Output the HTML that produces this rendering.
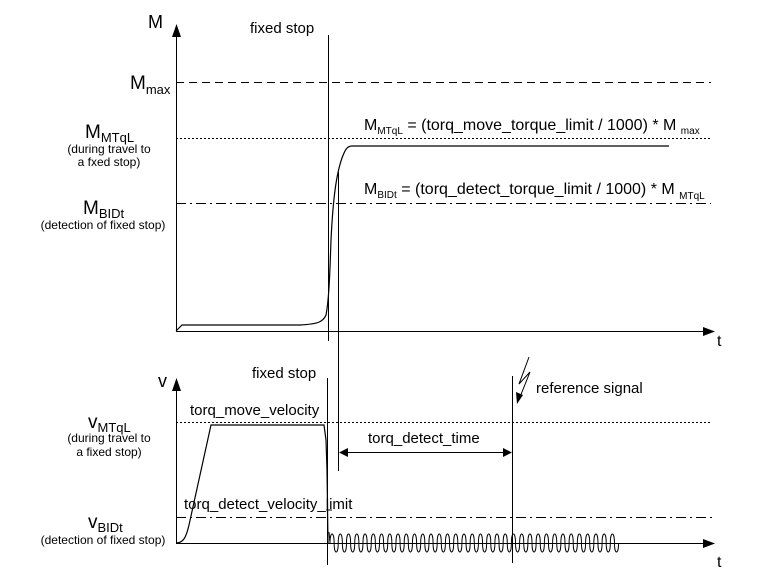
<!DOCTYPE html>
<html><head><meta charset="utf-8"><style>
html,body{margin:0;padding:0;background:#fff;}
svg{display:block;font-family:"Liberation Sans",Arial,sans-serif;}
</style></head><body>
<svg width="760" height="584" viewBox="0 0 760 584" xmlns="http://www.w3.org/2000/svg">
<g stroke="#000" fill="none" stroke-width="1">
<line x1="176.5" y1="36" x2="176.5" y2="331.5"/>
<line x1="176" y1="331.5" x2="706" y2="331.5"/>
<line x1="176" y1="82.5" x2="711" y2="82.5" stroke-dasharray="8,5"/>
<line x1="176" y1="138.5" x2="711" y2="138.5" stroke-dasharray="2,2"/>
<line x1="176" y1="203.5" x2="711" y2="203.5" stroke-dasharray="10,4,2,4"/>
<line x1="328.5" y1="35" x2="328.5" y2="341"/>
<line x1="338.5" y1="172" x2="338.5" y2="471"/>
<path d="M176,331 L182,325 L300,325 C318,324 323,322 326,315 C329,300 330,270 331,240 C333,200 336,175 342,158 C345,150 347,146 352,146 L669,146" stroke-width="1.2"/>
<line x1="176.5" y1="386" x2="176.5" y2="543.5"/>
<line x1="176" y1="543.5" x2="706" y2="543.5"/>
<line x1="176" y1="422.5" x2="712" y2="422.5" stroke-dasharray="2,2"/>
<line x1="176" y1="517.5" x2="712" y2="517.5" stroke-dasharray="10,4,2,4"/>
<line x1="327.5" y1="378" x2="327.5" y2="565"/>
<line x1="512.5" y1="376" x2="512.5" y2="563"/>
<path d="M176,543 C183,543 186,538 189,525 L211,425 L324,425 L326,440 L327,470 L328,543" stroke-width="1.2"/>
<line x1="326" y1="510" x2="332" y2="510"/>
<path transform="translate(330,0) scale(0.97,1) translate(-330,0)" d="M329,532 L330,543 c0,-12 4.25,-12 4.25,0 c0,12 4.25,12 4.25,0 c0,-12 4.25,-12 4.25,0 c0,12 4.25,12 4.25,0 c0,-12 4.25,-12 4.25,0 c0,12 4.25,12 4.25,0 c0,-12 4.25,-12 4.25,0 c0,12 4.25,12 4.25,0 c0,-12 4.25,-12 4.25,0 c0,12 4.25,12 4.25,0 c0,-12 4.25,-12 4.25,0 c0,12 4.25,12 4.25,0 c0,-12 4.25,-12 4.25,0 c0,12 4.25,12 4.25,0 c0,-12 4.25,-12 4.25,0 c0,12 4.25,12 4.25,0 c0,-12 4.25,-12 4.25,0 c0,12 4.25,12 4.25,0 c0,-12 4.25,-12 4.25,0 c0,12 4.25,12 4.25,0 c0,-12 4.25,-12 4.25,0 c0,12 4.25,12 4.25,0 c0,-12 4.25,-12 4.25,0 c0,12 4.25,12 4.25,0 c0,-12 4.25,-12 4.25,0 c0,12 4.25,12 4.25,0 c0,-12 4.25,-12 4.25,0 c0,12 4.25,12 4.25,0 c0,-12 4.25,-12 4.25,0 c0,12 4.25,12 4.25,0 c0,-12 4.25,-12 4.25,0 c0,12 4.25,12 4.25,0 c0,-12 4.25,-12 4.25,0 c0,12 4.25,12 4.25,0 c0,-12 4.25,-12 4.25,0 c0,12 4.25,12 4.25,0 c0,-12 4.25,-12 4.25,0 c0,12 4.25,12 4.25,0 c0,-12 4.25,-12 4.25,0 c0,12 4.25,12 4.25,0 c0,-12 4.25,-12 4.25,0 c0,12 4.25,12 4.25,0 c0,-12 4.25,-12 4.25,0 c0,12 4.25,12 4.25,0 c0,-12 4.25,-12 4.25,0 c0,12 4.25,12 4.25,0 c0,-12 4.25,-12 4.25,0 c0,12 4.25,12 4.25,0 c0,-12 4.25,-12 4.25,0 c0,12 4.25,12 4.25,0 c0,-12 4.25,-12 4.25,0 c0,12 4.25,12 4.25,0 c0,-12 4.25,-12 4.25,0 c0,12 4.25,12 4.25,0 c0,-12 4.25,-12 4.25,0 c0,12 4.25,12 4.25,0 c0,-12 4.25,-12 4.25,0 c0,12 4.25,12 4.25,0 c0,-12 4.25,-12 4.25,0 c0,12 4.25,12 4.25,0 c0,-12 4.25,-12 4.25,0 c0,12 4.25,12 4.25,0 c0,-12 4.25,-12 4.25,0 c0,12 4.25,12 4.25,0 c0,-12 4.25,-12 4.25,0 c0,12 4.25,12 4.25,0 c0,-12 4.25,-12 4.25,0 c0,12 4.25,12 4.25,0 c0,-12 4.25,-12 4.25,0 c0,12 4.25,12 4.25,0"/>
<line x1="346" y1="452.5" x2="505" y2="452.5"/>
<path d="M529,357 L519,384 L530,372 L520,397"/>
</g>
<g fill="#000">
<polygon points="176.5,24 172,37 181,37"/>
<polygon points="715,331.5 703,327 703,336"/>
<polygon points="176.5,378 172,391 181,391"/>
<polygon points="715,543.5 703,539 703,548"/>
<polygon points="339,452.5 348,448 348,457"/>
<polygon points="512,452.5 503,448 503,457"/>
<polygon points="517,404 516,392 523,395"/>
</g>
<g fill="#000" font-size="15">
<text x="148" y="28" font-size="18">M</text>
<text x="250" y="33">fixed stop</text>
<text x="130" y="89" font-size="19">M<tspan font-size="13" dy="5">max</tspan></text>
<text x="85" y="138" font-size="19">M<tspan font-size="13" dy="4">MTqL</tspan></text>
<text x="109" y="153" font-size="12" text-anchor="middle">(during travel to</text>
<text x="109" y="166" font-size="12" text-anchor="middle">a fxed stop)</text>
<text x="83" y="214" font-size="19">M<tspan font-size="13" dy="4">BIDt</tspan></text>
<text x="103" y="229" font-size="12" text-anchor="middle">(detection of fixed stop)</text>
<text x="364" y="130" font-size="16">M<tspan font-size="10" dy="4">MTqL</tspan><tspan dy="-4"> = (torq_move_torque_limit / 1000) * M </tspan><tspan font-size="10" dy="4"> max</tspan></text>
<text x="364" y="194" font-size="16">M<tspan font-size="10" dy="4">BIDt</tspan><tspan dy="-4"> = (torq_detect_torque_limit / 1000) * M </tspan><tspan font-size="10" dy="5"> MTqL</tspan></text>
<text x="717" y="346" font-size="16">t</text>
<text x="158" y="387" font-size="18">v</text>
<text x="252" y="378">fixed stop</text>
<text x="190" y="415">torq_move_velocity</text>
<text x="88" y="428" font-size="19">v<tspan font-size="13" dy="4">MTqL</tspan></text>
<text x="109" y="442" font-size="12" text-anchor="middle">(during travel to</text>
<text x="109" y="456" font-size="12" text-anchor="middle">a fixed stop)</text>
<text x="368" y="443">torq_detect_time</text>
<text x="536" y="393">reference signal</text>
<text x="184" y="509">torq_detect_velocity_limit</text>
<text x="88" y="528" font-size="19">v<tspan font-size="13" dy="4">BIDt</tspan></text>
<text x="103" y="544" font-size="12" text-anchor="middle">(detection of fixed stop)</text>
<text x="717" y="567" font-size="16">t</text>
</g>
</svg>
</body></html>
